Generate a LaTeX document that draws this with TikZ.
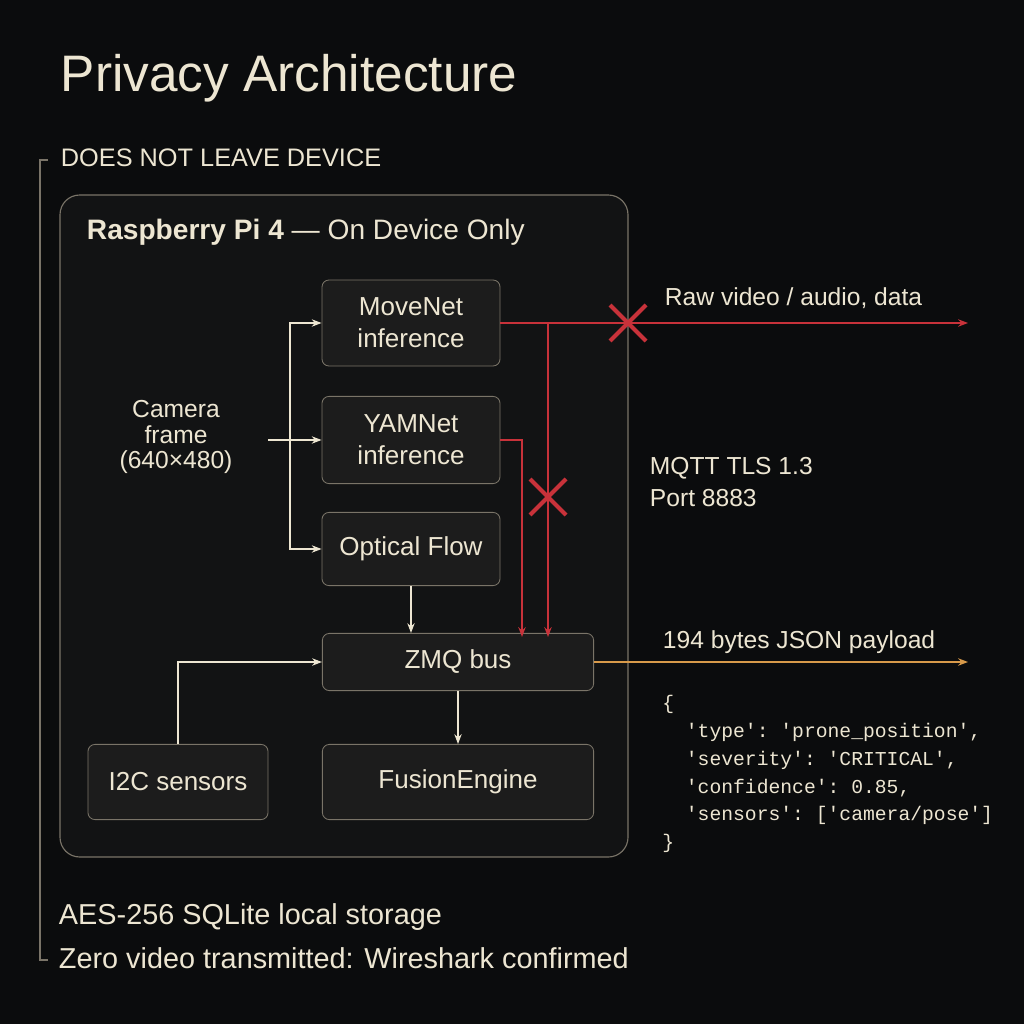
\documentclass[tikz,border=0pt]{standalone}
\usepackage{fontspec}
\setmainfont{Liberation Sans}
\setmonofont{Liberation Mono}
\usetikzlibrary{arrows.meta,positioning,calc}
\definecolor{cream}{HTML}{EDE6D2}
\definecolor{boxline}{HTML}{7A7468}
\definecolor{boxfill}{HTML}{1C1C1C}
\definecolor{outerfill}{HTML}{121314}
\definecolor{alarm}{HTML}{C8323A}
\definecolor{amber}{HTML}{D89A4A}
\definecolor{bgdark}{HTML}{0B0C0D}
\begin{document}
\begin{tikzpicture}[x=0.025cm, y=-0.025cm,
  every node/.style={font=\fontsize{17.5}{20}\selectfont, text=cream},
  stage/.style={rectangle, rounded corners=5pt, draw=boxline, fill=boxfill, line width=0.6pt, align=center, font=\fontsize{18.5}{23}\selectfont, minimum width=4.45cm},
  flow/.style={-{Stealth[length=7pt]}, draw=cream, line width=0.8pt},
  leak/.style={-{Stealth[length=7pt]}, draw=alarm, line width=1.2pt},
  cross/.style={draw=alarm, line width=3pt},
]
\fill[bgdark] (0,0) rectangle (1024,1024);
\useasboundingbox (0,0) rectangle (1024,1024);

% Title and bracket
\node[anchor=west, font=\fontsize{36.5}{42}\selectfont] (title) at (56,78) {Privacy Architecture};
\draw[boxline, line width=1pt] (48,160) -- (40,160) -- (40,960) -- (48,960);
\node[anchor=west, font=\fontsize{18}{20}\selectfont] (scope) at (56,158) {DOES NOT LEAVE DEVICE};

% Device frame
\draw[rounded corners=14pt, draw=boxline, fill=outerfill, line width=0.8pt] (60,195) rectangle (628,857);
\node[anchor=west, font=\fontsize{20}{24}\selectfont] (pi) at (82,232) {\textbf{Raspberry Pi 4} --- On Device Only};

% Stages
\node[stage, minimum height=2.15cm] (movenet) at (411,323) {MoveNet\\inference};
\node[stage, minimum height=2.18cm] (yamnet) at (411,440) {YAMNet\\inference};
\node[stage, minimum height=1.83cm] (optflow) at (411,549) {Optical Flow};
\node[stage, minimum height=1.43cm, minimum width=6.78cm] (zmq) at (458,662) {ZMQ bus};
\node[stage, minimum height=1.88cm, minimum width=4.5cm] (i2c) at (178,782) {I2C sensors};
\node[stage, minimum height=1.88cm, minimum width=6.78cm] (fusion) at (458,782) {FusionEngine};
\node[align=center, font=\fontsize{17.5}{18}\selectfont] (camera) at (176,437) {Camera\\frame\\(640×480)};

% Camera fan-out
\coordinate (fork) at (290,440);
\draw[cream, line width=0.8pt] (268,440) -- (fork);
\draw[flow] (fork) |- (movenet.west);
\draw[flow] (fork) -- (yamnet.west);
\draw[flow] (fork) |- (optflow.west);

% Internal bus
\draw[flow] (optflow.south) -- (optflow.south |- zmq.north);
\draw[flow] (zmq.south -| fusion.north) -- (fusion.north);
\draw[flow] (i2c.north) |- (zmq.west);

% Blocked paths
\coordinate (outraw) at (968,323);
\draw[leak] (movenet.east) -- (outraw);
\draw[leak] (548,323) -- (548,637);
\draw[leak] (yamnet.east) -| (522,637);
\draw[cross] (610,305) -- (646,341) (610,341) -- (646,305);
\draw[cross] (530,479) -- (566,515) (530,515) -- (566,479);
\node[anchor=west] (rawlabel) at (660,298) {Raw video / audio, data};
\node[anchor=west, align=left, font=\fontsize{17.5}{23}\selectfont] (mqtt) at (645,482) {MQTT TLS 1.3\\Port 8883};

% Allowed payload
\coordinate (outjson) at (968,662);
\draw[-{Stealth[length=7pt]}, draw=amber, line width=1.2pt] (zmq.east) -- (outjson);
\node[anchor=west] (jsonlabel) at (658,642) {194 bytes JSON payload};
\node[anchor=north west, align=left, font=\ttfamily\fontsize{14}{19.8}\selectfont, inner sep=0pt] (payload) at (662,695) {\{\\
\ \ 'type': 'prone\_position',\\
\ \ 'severity': 'CRITICAL',\\
\ \ 'confidence': 0.85,\\
\ \ 'sensors': ['camera/pose']\\
\}};

% Footer
\node[anchor=west, font=\fontsize{20.5}{24}\selectfont] (storage) at (54,917) {AES-256 SQLite local storage};
\node[anchor=west, font=\fontsize{20.5}{24}\selectfont] (wireshark) at (54,958) {Zero video transmitted: Wireshark confirmed};
\end{tikzpicture}
\end{document}
